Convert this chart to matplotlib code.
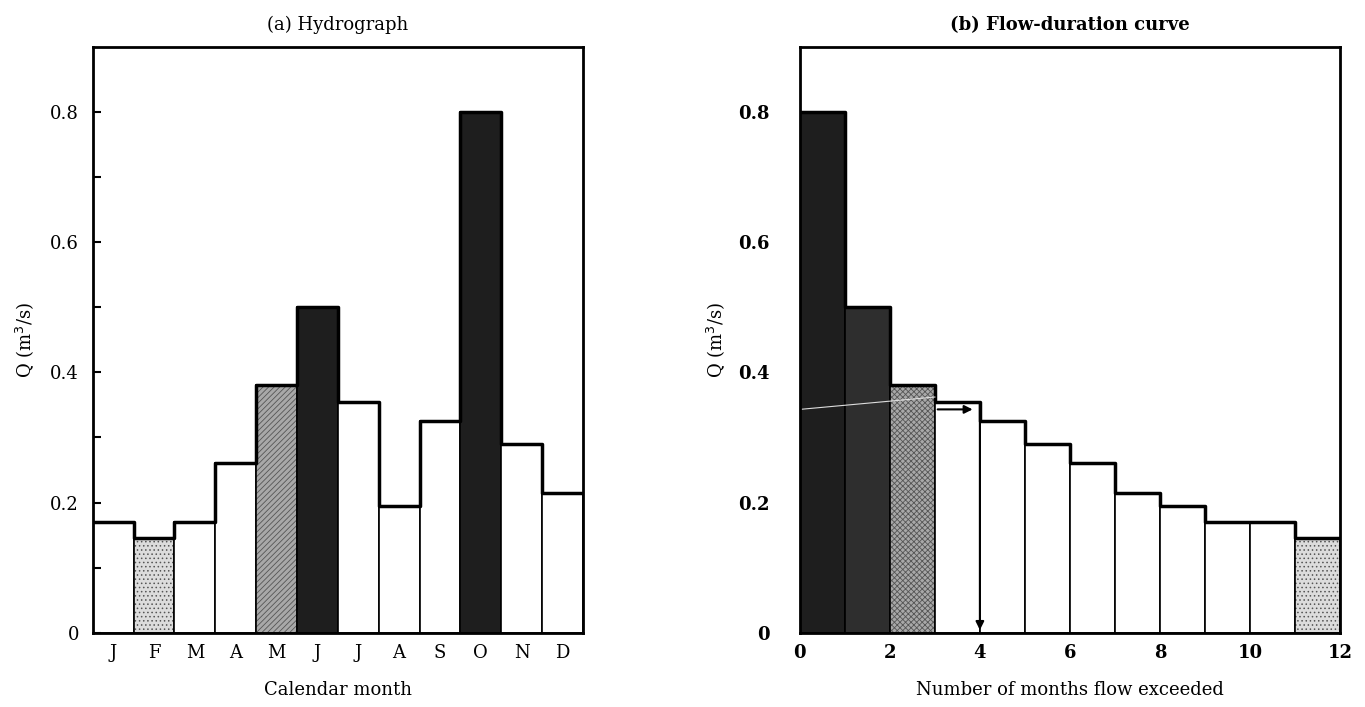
import numpy as np
import matplotlib
matplotlib.use("Agg")
import matplotlib.pyplot as plt

# monthly mean flows (m3/s)
months = ["J", "F", "M", "A", "M", "J", "J", "A", "S", "O", "N", "D"]
flows = [0.17, 0.145, 0.17, 0.26, 0.38, 0.50, 0.355, 0.195, 0.325, 0.80, 0.29, 0.215]

# shading per month: white / light stipple / hatched / dark
fills = ["white", "#dcdcdc", "white", "white", "#a8a8a8", "#1e1e1e",
         "white", "white", "white", "#1e1e1e", "white", "white"]
hatches = ["", "....", "", "", "//////", "", "", "", "", "", "", ""]

exceed_ticks = [0, 2, 4, 6, 8, 10, 12]
yticks = [0, 0.2, 0.4, 0.6, 0.8]
ytick_labels = ["0", "0.2", "0.4", "0.6", "0.8"]

plt.rcParams['font.family'] = ['DejaVu Serif']
plt.rcParams['hatch.linewidth'] = 0.6

fig = plt.figure(figsize=(13.65, 7.07), dpi=100)
ax1 = fig.add_axes([0.068, 0.105, 0.359, 0.829])
ax2 = fig.add_axes([0.586, 0.105, 0.3956, 0.829])

# ---- (a) hydrograph
x = np.arange(len(flows))
for i in range(len(flows)):
    hc = "#555555" if hatches[i] else "black"
    ax1.bar(x[i], flows[i], width=1.0, align="edge", color=fills[i],
            hatch=hatches[i], edgecolor=hc, linewidth=0)
    ax1.bar(x[i], flows[i], width=1.0, align="edge", fill=False,
            edgecolor="black", linewidth=1.2)
ax1.step(np.append(x, len(flows)), np.append(flows, flows[-1]), where="post",
         color="black", lw=2.5)

ax1.set_xlim(0, 12)
ax1.set_ylim(0, 0.9)
ax1.set_xticks(x + 0.5)
ax1.set_xticklabels(months, fontsize=13)
ax1.tick_params(axis="x", length=0, pad=8)
ax1.set_yticks(yticks)
ax1.set_yticklabels(ytick_labels, fontsize=13)
ax1.set_yticks(np.arange(0.1, 0.9, 0.2), minor=True)
ax1.tick_params(axis="y", direction="in", length=6, width=1.5, which="both", pad=10)
ax1.set_xlabel("Calendar month", fontsize=13, labelpad=14)
ax1.set_ylabel("Q (m$^3$/s)", fontsize=13, labelpad=10)
ax1.set_title("(a) Hydrograph", fontsize=13, pad=12)
for s in ax1.spines.values():
    s.set_linewidth(2)

# ---- (b) flow-duration curve: same months ranked by flow
order = np.argsort(flows, kind="stable")[::-1]
sorted_flows = [flows[i] for i in order]
sorted_fills = [fills[i] for i in order]
sorted_hatch = [hatches[i] if hatches[i] != "//////" else "xxxxxx" for i in order]
sorted_fills[1] = "#2e2e2e"
for k in range(len(sorted_flows)):
    hc = "#555555" if sorted_hatch[k] else "black"
    ax2.bar(k, sorted_flows[k], width=1.0, align="edge", color=sorted_fills[k],
            hatch=sorted_hatch[k], edgecolor=hc, linewidth=0)
    ax2.bar(k, sorted_flows[k], width=1.0, align="edge", fill=False,
            edgecolor="black", linewidth=1.2)
ax2.step(np.arange(13), np.append(sorted_flows, sorted_flows[-1]), where="post",
         color="black", lw=2.5)

# reading the 4-month exceedance flow
q4 = 0.343
ax2.plot([0, 3], [q4, 0.362], color="#dddddd", lw=0.8)
ax2.annotate("", xy=(3.9, q4), xytext=(3, q4),
             arrowprops=dict(arrowstyle="-|>", color="black", lw=1.5, mutation_scale=12))
ax2.annotate("", xy=(4, 0), xytext=(4, sorted_flows[3]),
             arrowprops=dict(arrowstyle="-|>", color="black", lw=1.5, mutation_scale=12))

ax2.set_xlim(0, 12)
ax2.set_ylim(0, 0.9)
ax2.set_xticks(exceed_ticks)
ax2.set_xticklabels([str(t) for t in exceed_ticks], fontsize=13, fontweight="bold")
ax2.tick_params(axis="x", length=0, pad=8)
ax2.set_yticks(yticks)
ax2.set_yticklabels(ytick_labels, fontsize=13, fontweight="bold")
ax2.tick_params(axis="y", length=0, pad=22)
ax2.set_xlabel("Number of months flow exceeded", fontsize=13, labelpad=14)
ax2.set_ylabel("Q (m$^3$/s)", fontsize=13, labelpad=8)
ax2.set_title("(b) Flow-duration curve", fontsize=13, fontweight="bold", pad=12)
for s in ax2.spines.values():
    s.set_linewidth(2)

fig.savefig("out.png", dpi=100)
